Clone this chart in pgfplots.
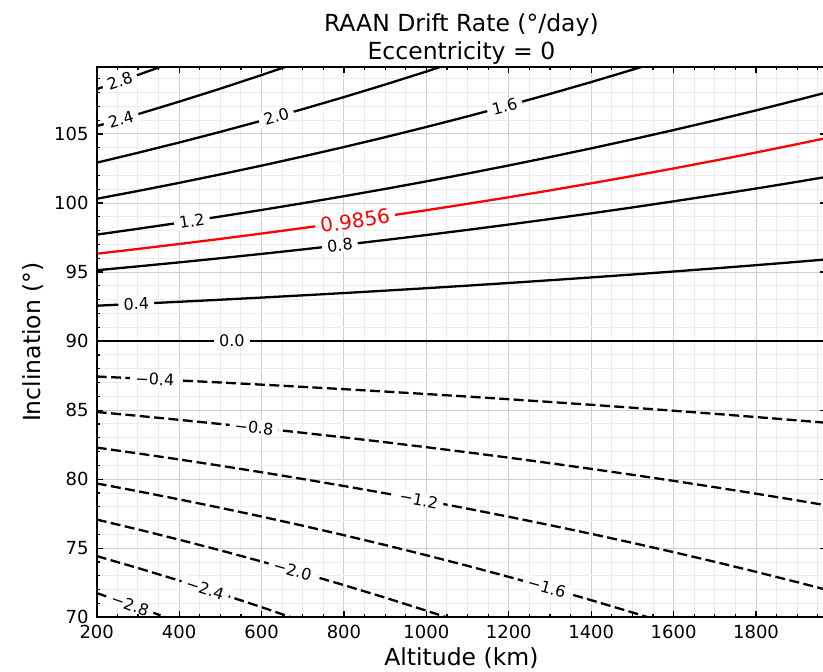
\documentclass[border=0pt]{standalone}
\usepackage{fontspec}
\setmainfont{DejaVu Sans}
\usepackage{pgfplots}
\pgfplotsset{compat=1.18}

% plots above the grid, ticks and spines above the plots
\pgfplotsset{
  layers/contour/.define layer set={
    axis background,axis grid,main,axis ticks,axis lines,axis tick labels,axis descriptions,axis foreground
  }{
    grid style={/pgfplots/on layer=axis grid},
    tick style={/pgfplots/on layer=axis ticks},
    axis line style={/pgfplots/on layer=axis lines},
    ticklabel style={/pgfplots/on layer=axis tick labels},
  },
}

\tikzset{
  solidc/.style={black, line width=1.15pt},
  dashc/.style={black, line width=1.15pt, dash pattern=on 5pt off 2.2pt},
  lbl/.style={fill=white, inner xsep=2.6pt, inner ysep=0.5pt, text=black, font=\fontsize{8}{9.6}\selectfont},
}
\newcommand{\bigfont}{\fontsize{11.75}{14}\selectfont}

\begin{document}
\begin{tikzpicture}
\begin{axis}[
    name=ax,
    set layers=contour,
    scale only axis,
    width=364.7pt, height=275.15pt,
    xmin=200, xmax=1970,
    ymin=70, ymax=109.85,
    xtick={200,400,...,1800},
    ytick={70,75,...,105},
    minor xtick={250,300,350,450,500,550,650,700,750,850,900,950,1050,1100,1150,1250,1300,1350,1450,1500,1550,1650,1700,1750,1850,1900,1950},
    minor ytick={71,72,73,74,76,77,78,79,81,82,83,84,86,87,88,89,91,92,93,94,96,97,98,99,101,102,103,104,106,107,108,109},
    grid=both,
    major grid style={draw=gray!38, line width=0.5pt},
    minor grid style={draw=gray!15, line width=0.5pt},
    tick align=inside,
    major tick length=3pt,
    minor tick length=1.7pt,
    tick style={black, line width=0.6pt},
    axis line style={line width=0.9pt},
    ticklabel style={font=\fontsize{9}{10.8}\selectfont, inner sep=0pt},
    xticklabel style={yshift=-3.85pt},
    yticklabel style={xshift=-3.85pt},
    /pgf/number format/assume math mode=true,
    /pgf/number format/1000 sep={},
]

% 0.0
\addplot[solidc] coordinates {(200,90) (2000,90)};

% positive levels
\addplot[solidc] coordinates {
(200,92.563) (300,92.703) (400,92.847) (500,92.997) (600,93.152) (700,93.313) (800,93.480)
(900,93.653) (1000,93.832) (1100,94.017) (1200,94.209) (1300,94.407) (1400,94.612)
(1500,94.823) (1600,95.041) (1700,95.266) (1800,95.499) (1900,95.739) (2000,95.986)};
\addplot[solidc] coordinates {
(200,95.132) (300,95.411) (400,95.701) (500,96.002) (600,96.314) (700,96.638) (800,96.974)
(900,97.321) (1000,97.682) (1100,98.055) (1200,98.441) (1300,98.840) (1400,99.253)
(1500,99.680) (1600,100.122) (1700,100.578) (1800,101.049) (1900,101.536) (2000,102.038)};
\addplot[red, line width=1.15pt] coordinates {
(200,96.327) (300,96.672) (400,97.030) (500,97.401) (600,97.787) (700,98.187) (800,98.603)
(900,99.033) (1000,99.479) (1100,99.941) (1200,100.419) (1300,100.914) (1400,101.426)
(1500,101.956) (1600,102.504) (1700,103.071) (1800,103.657) (1900,104.263) (2000,104.889)};
\addplot[solidc] coordinates {
(200,97.711) (300,98.132) (400,98.569) (500,99.024) (600,99.495) (700,99.985) (800,100.493)
(900,101.020) (1000,101.566) (1100,102.133) (1200,102.720) (1300,103.328) (1400,103.957)
(1500,104.609) (1600,105.284) (1700,105.983) (1800,106.707) (1900,107.456) (2000,108.231)};
\addplot[solidc] coordinates {
(200,100.306) (300,100.871) (400,101.459) (500,102.071) (600,102.706) (700,103.367) (800,104.053)
(900,104.766) (1000,105.506) (1100,106.274) (1200,107.072) (1300,107.900) (1400,108.760)
(1500,109.652) (1600,110.578)};
\addplot[solidc] coordinates {
(200,102.922) (300,103.636) (400,104.379) (500,105.153) (600,105.959) (700,106.797) (800,107.670)
(900,108.578) (1000,109.522) (1100,110.505)};
\addplot[solidc] coordinates {
(200,105.566) (300,106.433) (400,107.338) (500,108.281) (600,109.265) (700,110.291)};
\addplot[solidc] coordinates {
(200,108.245) (300,109.272) (400,110.345)};

% negative levels
\addplot[dashc] coordinates {
(200,87.437) (300,87.297) (400,87.153) (500,87.003) (600,86.848) (700,86.687) (800,86.520)
(900,86.347) (1000,86.168) (1100,85.983) (1200,85.791) (1300,85.593) (1400,85.388)
(1500,85.177) (1600,84.959) (1700,84.734) (1800,84.501) (1900,84.261) (2000,84.014)};
\addplot[dashc] coordinates {
(200,84.868) (300,84.589) (400,84.299) (500,83.998) (600,83.686) (700,83.362) (800,83.026)
(900,82.679) (1000,82.318) (1100,81.945) (1200,81.559) (1300,81.160) (1400,80.747)
(1500,80.320) (1600,79.878) (1700,79.422) (1800,78.951) (1900,78.464) (2000,77.962)};
\addplot[dashc] coordinates {
(200,82.289) (300,81.868) (400,81.431) (500,80.976) (600,80.505) (700,80.015) (800,79.507)
(900,78.980) (1000,78.434) (1100,77.867) (1200,77.280) (1300,76.672) (1400,76.043)
(1500,75.391) (1600,74.716) (1700,74.017) (1800,73.293) (1900,72.544) (2000,71.769)};
\addplot[dashc] coordinates {
(200,79.694) (300,79.129) (400,78.541) (500,77.929) (600,77.294) (700,76.633) (800,75.947)
(900,75.234) (1000,74.494) (1100,73.726) (1200,72.928) (1300,72.100) (1400,71.240)
(1500,70.348) (1600,69.422)};
\addplot[dashc] coordinates {
(200,77.078) (300,76.364) (400,75.621) (500,74.847) (600,74.041) (700,73.203) (800,72.330)
(900,71.422) (1000,70.478) (1100,69.495)};
\addplot[dashc] coordinates {
(200,74.434) (300,73.567) (400,72.662) (500,71.719) (600,70.735) (700,69.709)};
\addplot[dashc] coordinates {
(200,71.755) (300,70.728) (400,69.655)};

% inline contour labels
\node[lbl, rotate=19.0] at (axis cs:256,108.82) {2.8};
\node[lbl, rotate=16.2] at (axis cs:259,106.08) {2.4};
\node[lbl, rotate=15.7] at (axis cs:636,106.26) {2.0};
\node[lbl, rotate=15.0] at (axis cs:1190,107.00) {1.6};
\node[lbl, rotate=8.7] at (axis cs:431,98.71) {1.2};
\node[lbl, text=red, font=\fontsize{10}{12}\selectfont, rotate=8.2] at (axis cs:827,98.72) {0.9856};
\node[lbl, rotate=6.4] at (axis cs:790,96.94) {0.8};
\node[lbl, rotate=2.7] at (axis cs:296,92.70) {0.4};
\node[lbl] at (axis cs:528,90) {0.0};
\node[lbl, rotate=-2.8] at (axis cs:341,87.24) {−0.4};
\node[lbl, rotate=-6.0] at (axis cs:582,83.74) {−0.8};
\node[lbl, rotate=-10.4] at (axis cs:982,78.53) {−1.2};
\node[lbl, rotate=-15.5] at (axis cs:1292,72.17) {−1.6};
\node[lbl, rotate=-15.7] at (axis cs:675,73.41) {−2.0};
\node[lbl, rotate=-17.5] at (axis cs:463,72.07) {−2.4};
\node[lbl, rotate=-19.0] at (axis cs:281,70.92) {−2.8};
\end{axis}

\node[anchor=base, font=\bigfont] at ([yshift=17.75pt]ax.north) {RAAN Drift Rate (°/day)};
\node[anchor=base, font=\bigfont] at ([yshift=3.5pt]ax.north) {Eccentricity = 0};
\node[anchor=base, font=\bigfont] at ([yshift=-24.35pt]ax.south) {Altitude (km)};
\node[rotate=90, font=\bigfont] at ([xshift=-31.85pt]ax.west) {Inclination (°)};

% page = the reference's crop (its right spine falls just outside)
\pgfresetboundingbox
\useasboundingbox (-48.35pt,-27.35pt) rectangle (363.15pt,308.65pt);
\end{tikzpicture}
\end{document}
